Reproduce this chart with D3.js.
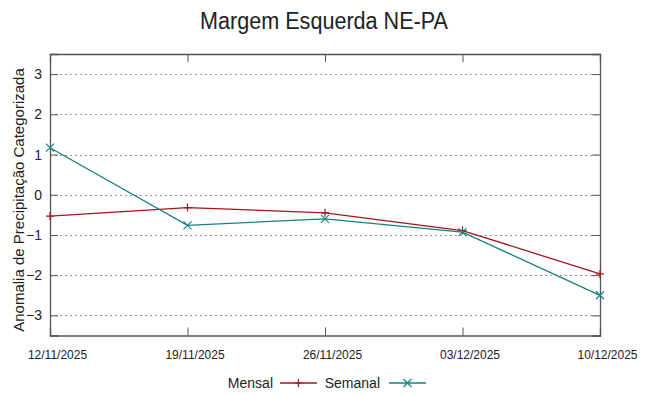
<!DOCTYPE html>
<html>
<head>
<meta charset="utf-8">
<script src="https://cdn.jsdelivr.net/npm/d3@7"></script>
<style>
  body { margin: 0; background: #fff; }
  text { font-family: "Liberation Sans", Arial, sans-serif; fill: #222; }
</style>
</head>
<body>
<div id="chart-area"></div>
<script>
// dados
var datas = ["12/11/2025", "19/11/2025", "26/11/2025", "03/12/2025", "10/12/2025"]
var mensal = [-0.53, -0.32, -0.45, -0.89, -1.97]
var semanal = [1.17, -0.76, -0.60, -0.93, -2.50]
var yTicks = [-3, -2, -1, 0, 1, 2, 3]

var width = 648, height = 396
var margin = {left: 50, right: 48, top: 54, bottom: 60.5}

var svg = d3.select("#chart-area").append("svg")
    .attr("width", width)
    .attr("height", height)

var x = d3.scalePoint()
    .domain(datas)
    .range([margin.left, width - margin.right])

var y = d3.scaleLinear()
    .domain([-3.5, 3.5])
    .range([height - margin.bottom, margin.top])

// grade pontilhada
svg.selectAll("line.grid")
    .data(yTicks)
    .enter()
    .append("line")
    .attr("class", "grid")
    .attr("x1", margin.left)
    .attr("x2", width - margin.right)
    .attr("y1", function(d){ return Math.round(y(d)) + 0.5 })
    .attr("y2", function(d){ return Math.round(y(d)) + 0.5 })
    .attr("stroke", "#999")
    .attr("stroke-width", 1)
    .attr("stroke-dasharray", "2,3")

// eixos
var yAxisL = d3.axisLeft(y).tickValues(yTicks).tickSize(-8).tickPadding(8).tickFormat(d3.format("d"))
var yAxisR = d3.axisRight(y).tickValues(yTicks).tickSize(-8).tickFormat("")
var xAxisB = d3.axisBottom(x).tickSize(-8).tickPadding(15)
var xAxisT = d3.axisTop(x).tickSize(-8).tickFormat("")

svg.append("g").attr("transform", "translate(" + margin.left + ",0)").call(yAxisL)
    .call(function(g){ g.selectAll("text").style("font-size", "14px") })
svg.append("g").attr("transform", "translate(" + (width - margin.right) + ",0)").call(yAxisR)
svg.append("g").attr("transform", "translate(0," + (height - margin.bottom) + ")").call(xAxisB)
    .call(function(g){ g.selectAll("text").style("font-size", "12px").attr("dx", 7) })
svg.append("g").attr("transform", "translate(0," + margin.top + ")").call(xAxisT)

svg.selectAll(".domain, .tick line").attr("stroke", "#555")
svg.selectAll(".tick text").attr("fill", "#222").attr("font-family", "Liberation Sans, Arial, sans-serif")
svg.selectAll(".domain").attr("stroke-width", 1.3)

// titulo
svg.append("text")
    .attr("x", 324)
    .attr("y", 28.5)
    .attr("text-anchor", "middle")
    .attr("textLength", 248)
    .attr("lengthAdjust", "spacingAndGlyphs")
    .style("font-size", "23px")
    .text("Margem Esquerda NE-PA")

svg.append("text")
    .attr("transform", "translate(23.5,200) rotate(-90)")
    .attr("text-anchor", "middle")
    .style("font-size", "15px")
    .text("Anomalia de Precipitação Categorizada")

// linhas
var series = [
    {nome: "Mensal", valores: mensal, cor: "#a3161e", marca: "plus"},
    {nome: "Semanal", valores: semanal, cor: "#17817f", marca: "cross"}
]

var line = d3.line()
    .x(function(d, i){ return x(datas[i]) })
    .y(function(d){ return y(d) })

function marker(g, tipo, cx, cy, cor) {
    var s = 4
    if (tipo == "plus") {
        g.append("path").attr("d", "M" + (cx - s) + "," + cy + "H" + (cx + s) + "M" + cx + "," + (cy - s) + "V" + (cy + s))
            .attr("stroke", cor).attr("stroke-width", 1.2).attr("fill", "none")
    } else {
        g.append("path").attr("d", "M" + (cx - s) + "," + (cy - s) + "L" + (cx + s) + "," + (cy + s) + "M" + (cx - s) + "," + (cy + s) + "L" + (cx + s) + "," + (cy - s))
            .attr("stroke", cor).attr("stroke-width", 1.2).attr("fill", "none")
    }
}

series.forEach(function(s){
    var g = svg.append("g")
    g.append("path")
        .attr("d", line(s.valores))
        .attr("fill", "none")
        .attr("stroke", s.cor)
        .attr("stroke-width", 1.3)
    s.valores.forEach(function(v, i){
        marker(g, s.marca, x(datas[i]), y(v), s.cor)
    })
})

// legenda
var legenda = [
    {texto: "Mensal", tx: 273, l1: 280, l2: 317},
    {texto: "Semanal", tx: 380, l1: 389, l2: 426}
]
legenda.forEach(function(l, i){
    var ly = 383
    svg.append("text")
        .attr("x", l.tx)
        .attr("y", ly + 5)
        .attr("text-anchor", "end")
        .style("font-size", "14px")
        .text(l.texto)
    svg.append("line")
        .attr("x1", l.l1).attr("x2", l.l2)
        .attr("y1", ly).attr("y2", ly)
        .attr("stroke", series[i].cor)
        .attr("stroke-width", 1.3)
    marker(svg, series[i].marca, (l.l1 + l.l2) / 2, ly, series[i].cor)
})
</script>
</body>
</html>
